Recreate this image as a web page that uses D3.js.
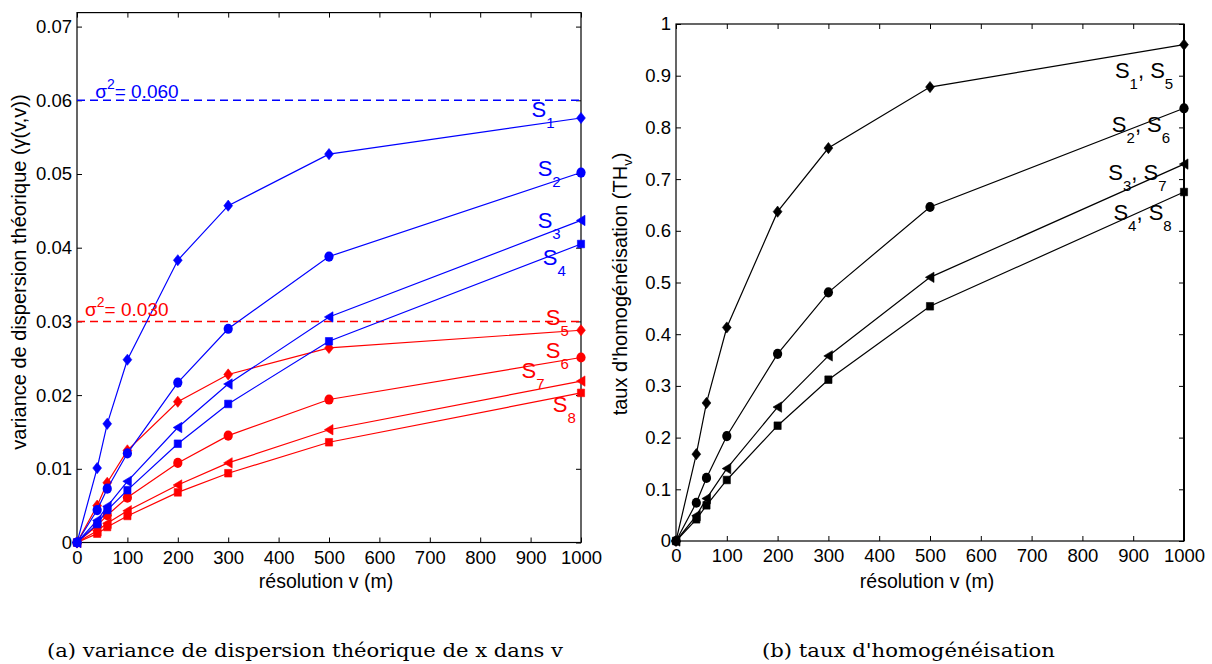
<!DOCTYPE html>
<html><head><meta charset="utf-8">
<script src="https://cdn.jsdelivr.net/npm/d3@7"></script>
<style>
body{margin:0;background:#fff}
svg{display:block}
text{font-family:"Liberation Sans",Arial,Helvetica,sans-serif}
text.cap{font-family:"DejaVu Serif","Liberation Serif",serif}
</style>
</head><body>
<svg id="c" width="1212" height="664"></svg>
<script>
// ---------------- data ----------------
const resolution = [0, 40, 60, 100, 200, 300, 500, 1000];

// (a) variance de dispersion théorique
const varS1 = [0, 0.0101, 0.0161, 0.0248, 0.0383, 0.0457, 0.0527, 0.0576];
const varS2 = [0, 0.0044, 0.0073, 0.0121, 0.0217, 0.0290, 0.0388, 0.0502];
const varS3 = [0, 0.0030, 0.0049, 0.0083, 0.0156, 0.0215, 0.0306, 0.0437];
const varS4 = [0, 0.0025, 0.0044, 0.0071, 0.0134, 0.0188, 0.0273, 0.0405];
const varS5 = [0, 0.0050, 0.0081, 0.0125, 0.0191, 0.0228, 0.0264, 0.0288];
const varS6 = [0, 0.0023, 0.0037, 0.0061, 0.0108, 0.0145, 0.0194, 0.0251];
const varS7 = [0, 0.0016, 0.0026, 0.0043, 0.0078, 0.0108, 0.0153, 0.0219];
const varS8 = [0, 0.0012, 0.0021, 0.0036, 0.0068, 0.0094, 0.0136, 0.0203];
const sigma2 = [0.060, 0.030];

// (b) taux d'homogénéisation
const thS1S5 = [0, 0.168, 0.267, 0.413, 0.637, 0.760, 0.878, 0.960];
const thS2S6 = [0, 0.074, 0.122, 0.203, 0.362, 0.481, 0.646, 0.837];
const thS3S7 = [0, 0.049, 0.082, 0.140, 0.259, 0.358, 0.510, 0.729];
const thS4S8 = [0, 0.042, 0.069, 0.118, 0.223, 0.312, 0.454, 0.675];

const xTicks = [0, 100, 200, 300, 400, 500, 600, 700, 800, 900, 1000];
const yTicksVar = [0, 0.01, 0.02, 0.03, 0.04, 0.05, 0.06, 0.07];
const yTicksTH = [0, 0.1, 0.2, 0.3, 0.4, 0.5, 0.6, 0.7, 0.8, 0.9, 1];

const seriesLabelsA = ["1","2","3","4","5","6","7","8"];
const seriesLabelsB = [["1","5"],["2","6"],["3","7"],["4","8"]];

// ---------------- drawing ----------------
const svg = d3.select("#c");
const BLUE = "#0000ff", RED = "#ff0000", BLACK = "#000";

const markerPath = {
  diamond: "M0,-5.6L4.4,0L0,5.6L-4.4,0Z",
  tri: "M-4.6,0L4,-5.2L4,5.2Z",
  square: "M-3.6,-3.8H3.6V3.8H-3.6Z"
};

function panel(px0, px1, py0, py1, yMax, yTicks, yFmt, yLabelNodes, yLabelX, yLabelCY, rightW) {
  const x = d3.scaleLinear().domain([0, 1000]).range([px0, px1]);
  const y = d3.scaleLinear().domain([0, yMax]).range([py0, py1]);
  const g = svg.append("g");
  const tl = 5;
  const ax = (sel) => sel.call(s => s.select(".domain").remove())
      .selectAll("text").attr("fill", "#000").style("font-size", "18.5px");
  g.append("g").attr("transform", `translate(0,${py0})`)
    .call(d3.axisBottom(x).tickValues(xTicks).tickSizeInner(-tl).tickSizeOuter(0).tickPadding(8)
      .tickFormat(d3.format("d"))).call(ax);
  g.append("g").attr("transform", `translate(0,${py1})`)
    .call(d3.axisTop(x).tickValues(xTicks).tickSizeInner(-tl).tickSizeOuter(0).tickFormat("")).call(ax);
  g.append("g").attr("transform", `translate(${px0},0)`)
    .call(d3.axisLeft(y).tickValues(yTicks).tickSizeInner(-tl).tickSizeOuter(0).tickPadding(5)
      .tickFormat(yFmt)).call(ax);
  g.append("g").attr("transform", `translate(${px1},0)`)
    .call(d3.axisRight(y).tickValues(yTicks).tickSizeInner(-tl).tickSizeOuter(0).tickFormat("")).call(ax);
  g.selectAll(".tick line").attr("stroke", "#000").attr("stroke-width", 1);
  g.append("rect").attr("x", px0).attr("y", py1).attr("width", px1 - px0).attr("height", py0 - py1)
    .attr("fill", "none").attr("stroke", "#000").attr("stroke-width", 1.2);
  if (rightW) g.append("line").attr("x1", px1).attr("x2", px1).attr("y1", py1).attr("y2", py0)
    .attr("stroke", "#000").attr("stroke-width", rightW);
  // x label
  g.append("text").attr("x", (px0 + px1) / 2 - 3).attr("y", 588).attr("text-anchor", "middle")
    .style("font-size", "19.5px").text("résolution v (m)");
  // y label
  const yl = g.append("text").attr("transform", `translate(${yLabelX},${yLabelCY}) rotate(-90)`)
    .attr("text-anchor", "middle").style("font-size", "20px");
  yLabelNodes(yl);
  return {x, y, g};
}

function drawSeries(p, vals, color, marker) {
  const line = d3.line().x((d, i) => p.x(resolution[i])).y(d => p.y(d));
  p.g.append("path").datum(vals).attr("d", line).attr("fill", "none")
    .attr("stroke", color).attr("stroke-width", 1.2);
  const pts = p.g.append("g").selectAll("g").data(vals).join("g")
    .attr("transform", (d, i) => `translate(${p.x(resolution[i])},${p.y(d)})`);
  if (marker === "circle") pts.append("ellipse").attr("rx", 4.6).attr("ry", 5.1).attr("fill", color);
  else pts.append("path").attr("d", markerPath[marker]).attr("fill", color).attr("stroke", color).attr("stroke-width", 0.6);
}

function sLabel(p, xv, yv, subs, color) {
  const t = p.g.append("text").attr("x", p.x(xv)).attr("y", p.y(yv)).attr("fill", color).style("font-size", "22px");
  subs.forEach((s, i) => {
    t.append("tspan").attr("dy", i > 0 ? -11 : 0).text(i > 0 ? ", S" : "S");
    t.append("tspan").attr("dy", 11).style("font-size", "15px").text(s);
  });
}

// ----- panel (a)
const pa = panel(77, 581, 542.5, 12.6, 0.0719, yTicksVar, d => d === 0 ? "0" : d3.format(".2f")(d),
  t => { t.append("tspan").text("variance de dispersion théorique (γ(v,v))"); }, 26, 272, 0);

sigma2.forEach((s, i) => {
  const col = i === 0 ? BLUE : RED;
  pa.g.append("line").attr("x1", pa.x(0)).attr("x2", pa.x(1000)).attr("y1", pa.y(s)).attr("y2", pa.y(s))
    .attr("stroke", col).attr("stroke-width", 1.5).attr("stroke-dasharray", "8,5");
});

const blueSeries = [[varS1, "diamond"], [varS2, "circle"], [varS3, "tri"], [varS4, "square"]];
const redSeries = [[varS5, "diamond"], [varS6, "circle"], [varS7, "tri"], [varS8, "square"]];
redSeries.forEach(([v, m]) => drawSeries(pa, v, RED, m));
blueSeries.forEach(([v, m]) => drawSeries(pa, v, BLUE, m));

// sigma labels
[[36, 0.06035, 0], [16, 0.03068, 1]].forEach(([xv, yv, i]) => {
  const col = i === 0 ? BLUE : RED;
  const t = pa.g.append("text").attr("x", pa.x(xv)).attr("y", pa.y(yv)).attr("fill", col).style("font-size", "19px");
  t.append("tspan").text("σ");
  t.append("tspan").attr("dy", -9).style("font-size", "14px").text("2");
  t.append("tspan").attr("dy", 9).text("= " + d3.format(".3f")(sigma2[i]));
});

const labPosA = [[902, 0.0578], [914, 0.0497], [914, 0.0427], [924, 0.0376],
                 [930, 0.02955], [930, 0.0251], [882, 0.0223], [944, 0.0177]];
labPosA.forEach(([xv, yv], i) => sLabel(pa, xv, yv, [seriesLabelsA[i]], i < 4 ? BLUE : RED));

// ----- panel (b)
const pb = panel(676, 1184, 541, 24, 1, yTicksTH, d => d === 0 ? "0" : d === 1 ? "1" : d3.format(".1f")(d),
  t => {
    t.append("tspan").text("taux d'homogénéisation (TH");
    t.append("tspan").attr("dy", 5).style("font-size", "13px").text("v");
    t.append("tspan").attr("dy", -5).text(")");
  }, 627, 284, 2);

[[thS1S5, "diamond"], [thS2S6, "circle"], [thS3S7, "tri"], [thS4S8, "square"]]
  .forEach(([v, m]) => drawSeries(pb, v, BLACK, m));

const labPosB = [[864, 0.895], [858, 0.792], [851, 0.698], [861, 0.621]];
labPosB.forEach(([xv, yv], i) => sLabel(pb, xv, yv, seriesLabelsB[i], BLACK));

// captions
svg.append("text").attr("class", "cap").attr("x", 47).attr("y", 657).style("font-size", "18px")
  .attr("textLength", 516).attr("lengthAdjust", "spacingAndGlyphs")
  .text("(a) variance de dispersion théorique de x dans v");
svg.append("text").attr("class", "cap").attr("x", 762).attr("y", 657).style("font-size", "18px")
  .attr("textLength", 293).attr("lengthAdjust", "spacingAndGlyphs")
  .text("(b) taux d'homogénéisation");
</script>
</body></html>
